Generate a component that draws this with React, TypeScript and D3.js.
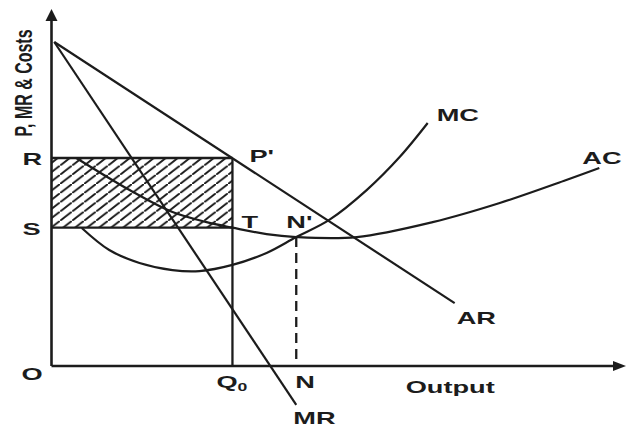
import * as React from "react";
import * as d3 from "d3";

const width = 627, height = 428;

// curves in chart units: output 0..10 along x, price/cost 0..10 along y
const arPoints: [number, number][] = [[0.05, 10], [7.33, 1.94]];
const mrPoints: [number, number][] = [[0.05, 10], [4.45, -1.2]];
const mcPoints: [number, number][] = [
  [0.55, 4.26], [1.05, 3.58], [1.6, 3.18], [2.2, 2.96], [2.69, 2.93], [3.29, 3.12],
  [3.91, 3.49], [4.45, 3.98], [5.05, 4.51], [5.73, 5.43], [6.33, 6.45], [6.84, 7.5],
];
const acPoints: [number, number][] = [
  [0.45, 6.42], [1.42, 5.43], [2.2, 4.75], [2.82, 4.44], [3.29, 4.27], [3.91, 4.07],
  [4.45, 3.98], [5.55, 3.98], [6.93, 4.44], [8.15, 5.03], [9.36, 5.74], [9.96, 6.11],
];

const qZero = 3.29;   // Q0, profit max output
const qN = 4.45;      // N, min of AC
const priceR = 6.42;  // R = price at P'
const costS = 4.27;   // S = AC at Q0
const acMin = 3.98;   // N'

const ink = "#1c1c1c";

const Label: React.FC<{x: number, y: number, children: React.ReactNode, size?: number}> = ({x, y, children, size = 17}) => (
  <text transform={`translate(${x},${y}) scale(1.6,1)`} fontSize={size} fontWeight="bold"
        fontFamily="Liberation Sans, Arial, sans-serif" fill={ink}>{children}</text>
);

const App: React.FC = () => {
  const x = d3.scaleLinear().domain([0, 10]).range([51.5, 601.5]);
  const y = d3.scaleLinear().domain([0, 10]).range([366, 42]);

  const straight = d3.line<[number, number]>().x(d => x(d[0])).y(d => y(d[1]));
  const smooth = d3.line<[number, number]>().x(d => x(d[0])).y(d => y(d[1])).curve(d3.curveCatmullRom);

  const x0 = x(0), y0 = y(0);
  const yTop = 9, xRight = 626;

  const mcEnd = mcPoints[mcPoints.length - 1];
  const acEnd = acPoints[acPoints.length - 1];
  const arEnd = arPoints[arPoints.length - 1];
  const mrEnd = mrPoints[mrPoints.length - 1];

  return (
    <svg width={width} height={height} style={{position: "fixed", left: 0, top: 0, background: "#fff"}}>
      <defs>
        <pattern id="hatch" patternUnits="userSpaceOnUse" width={12} height={9.2}>
          <path d="M-1,9.97 L13,-0.77" stroke={ink} strokeWidth={2} />
        </pattern>
      </defs>

      {/* shaded profit area */}
      <rect x={x0} y={y(priceR)} width={x(qZero) - x0} height={y(costS) - y(priceR)} fill="url(#hatch)" />

      {/* axes */}
      <line x1={x0} y1={y0} x2={x0} y2={yTop + 8} stroke={ink} strokeWidth={2.6} />
      <path d={`M${x0},${yTop} L${x0 - 6},${yTop + 12} L${x0 + 6},${yTop + 12} Z`} fill={ink} />
      <line x1={x0} y1={y0} x2={xRight - 10} y2={y0} stroke={ink} strokeWidth={2.4} />
      <path d={`M${xRight},${y0} L${xRight - 13},${y0 - 5} L${xRight - 13},${y0 + 5} Z`} fill={ink} />

      {/* rectangle edges */}
      <g stroke={ink} strokeWidth={2.3} fill="none">
        <line x1={x0} y1={y(priceR)} x2={x(qZero)} y2={y(priceR)} />
        <line x1={x0} y1={y(costS)} x2={x(qZero)} y2={y(costS)} />
        <line x1={x(qZero)} y1={y(priceR)} x2={x(qZero)} y2={y0} />
        <line x1={x(qN)} y1={y(acMin)} x2={x(qN)} y2={y0} strokeDasharray="10,6" />
      </g>

      {/* curves */}
      <g stroke={ink} strokeWidth={2.2} fill="none">
        <path d={straight(arPoints) ?? ""} />
        <path d={straight(mrPoints) ?? ""} />
        <path d={smooth(mcPoints) ?? ""} />
        <path d={smooth(acPoints) ?? ""} />
      </g>

      {/* labels */}
      <text transform={`translate(32,83) scale(1.5,1) rotate(-90)`} fontSize={16} fontWeight="bold"
            fontFamily="Liberation Sans, Arial, sans-serif" fill={ink} textAnchor="middle">P, MR &amp; Costs</text>

      <Label x={x(mcEnd[0]) + 9} y={y(mcEnd[1]) - 2}>MC</Label>
      <Label x={x(acEnd[0]) - 17} y={y(acEnd[1]) - 4}>AC</Label>
      <Label x={x(arEnd[0]) + 2} y={y(arEnd[1]) + 21}>AR</Label>
      <Label x={x(mrEnd[0]) - 3} y={y(mrEnd[1]) + 19}>MR</Label>
      <Label x={x(6.44)} y={y0 + 27}>Output</Label>

      <Label x={x0 - 30} y={y0 + 14}>O</Label>
      <Label x={x0 - 29} y={y(priceR) + 7}>R</Label>
      <Label x={x0 - 29} y={y(costS) + 7}>S</Label>
      <Label x={x(qZero) + 17} y={y(priceR) + 4}>P'</Label>
      <Label x={x(qZero) + 9} y={y(costS)}>T</Label>
      <Label x={x(qN) - 10} y={y(costS)}>N'</Label>
      <Label x={x(qZero) - 16} y={y0 + 22}>Q<tspan fontSize={11} dy={3}>0</tspan></Label>
      <Label x={x(qN) - 1} y={y0 + 22}>N</Label>
    </svg>
  );
};

export default App;
